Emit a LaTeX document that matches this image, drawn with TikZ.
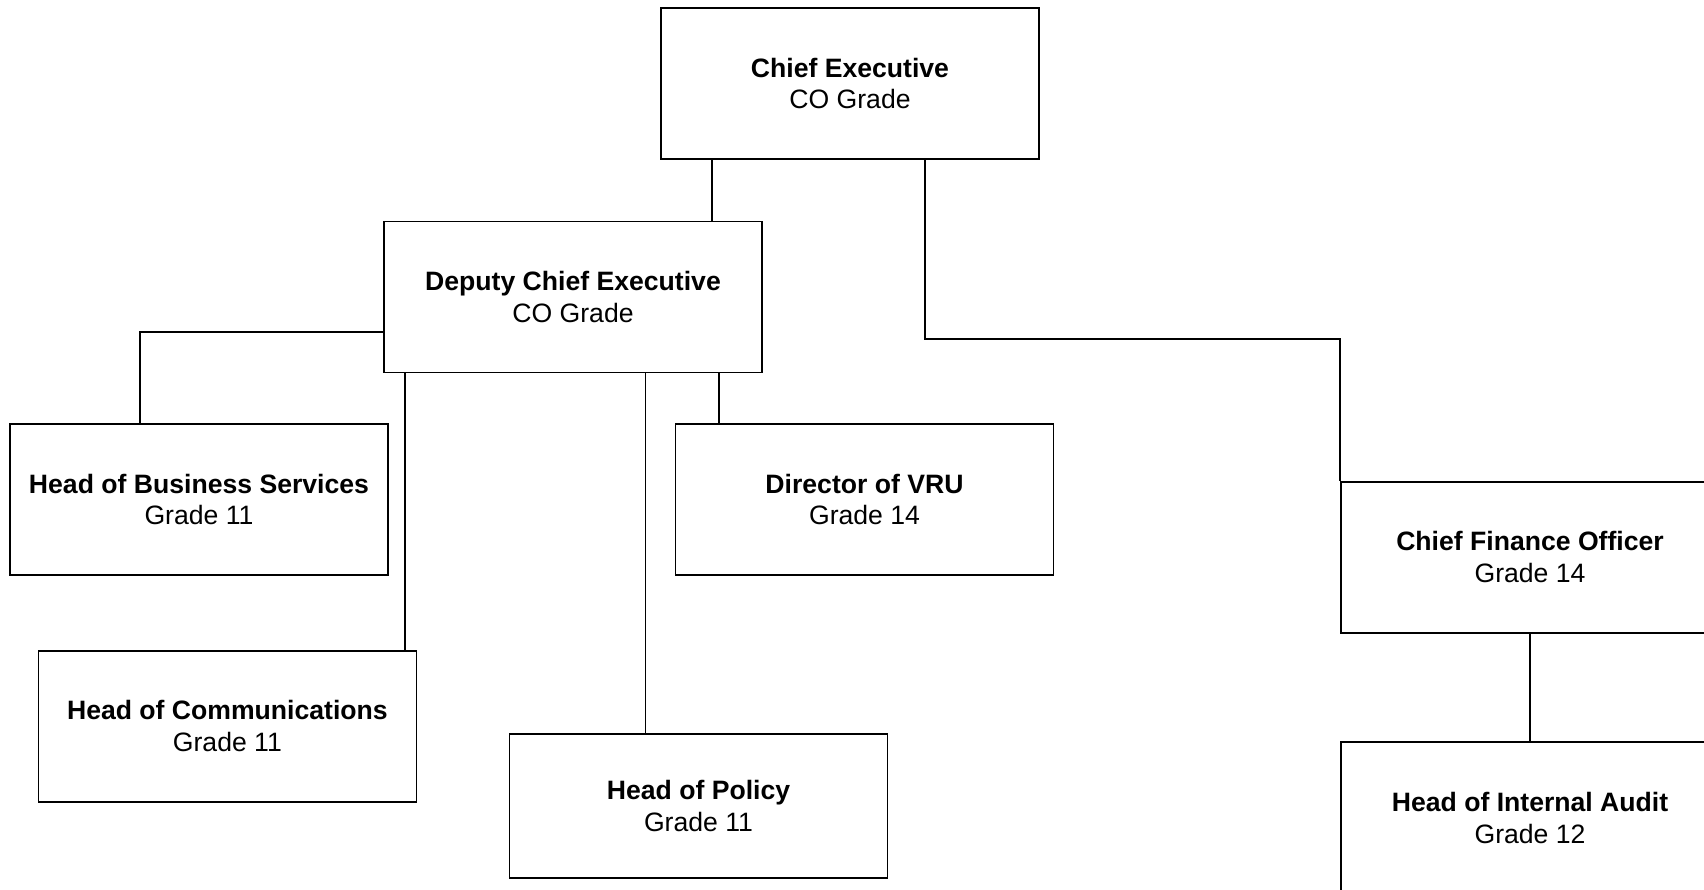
\documentclass[tikz,border=0pt]{standalone}
\usepackage{fontspec}
\setmainfont{Liberation Sans}
\begin{document}
\begin{tikzpicture}[x=1pt,y=-1pt,
  post/.style={draw=black, line width=1.8pt, fill=white, minimum width=378pt, minimum height=151pt,
    align=center, inner sep=0pt, font=\fontsize{26.6}{31.7}\selectfont},
  link/.style={draw=black, line width=1.8pt}]
\useasboundingbox (0,0) rectangle (1704,890);
\clip (0,0) rectangle (1704,890);
\fill[white] (0,0) rectangle (1704,890);
\node[post] (ce)  at (850,83.5)   {\textbf{Chief Executive}\\CO Grade};
\node[post] (dep) at (573,297)    {\textbf{Deputy Chief Executive}\\CO Grade};
\node[post] (hbs) at (199,499.5)  {\textbf{Head of Business Services}\\Grade 11};
\node[post] (vru) at (864.5,499.5){\textbf{Director of VRU}\\Grade 14};
\node[post] (hoc) at (227.4,726.2){\textbf{Head of Communications}\\Grade 11};
\node[post, minimum height=144pt] (hop) at (698.5,806) {\textbf{Head of Policy}\\Grade 11};
\node[post] (cfo) at (1530,557.2) {\textbf{Chief Finance Officer}\\Grade 14};
\node[post] (hia) at (1530,817.8) {\textbf{Head of Internal Audit}\\Grade 12};
\coordinate (bend) at (925,339.3);
\draw[link] (ce.south -| 711.7,0) -- (dep.north -| 711.7,0);
\draw[link] (ce.south -| bend) -- (bend) -| (cfo.north west);
\draw[link] (dep.west |- 0,332.3) -| (hbs.north -| 140.3,0);
\draw[link] (dep.south -| 405,0) -- (hoc.north -| 405,0);
\draw[link] (dep.south -| 645.4,0) -- (hop.north -| 645.4,0);
\draw[link] (dep.south -| 718.9,0) -- (vru.north -| 718.9,0);
\draw[link] (cfo.south) -- (hia.north);
\end{tikzpicture}
\end{document}
